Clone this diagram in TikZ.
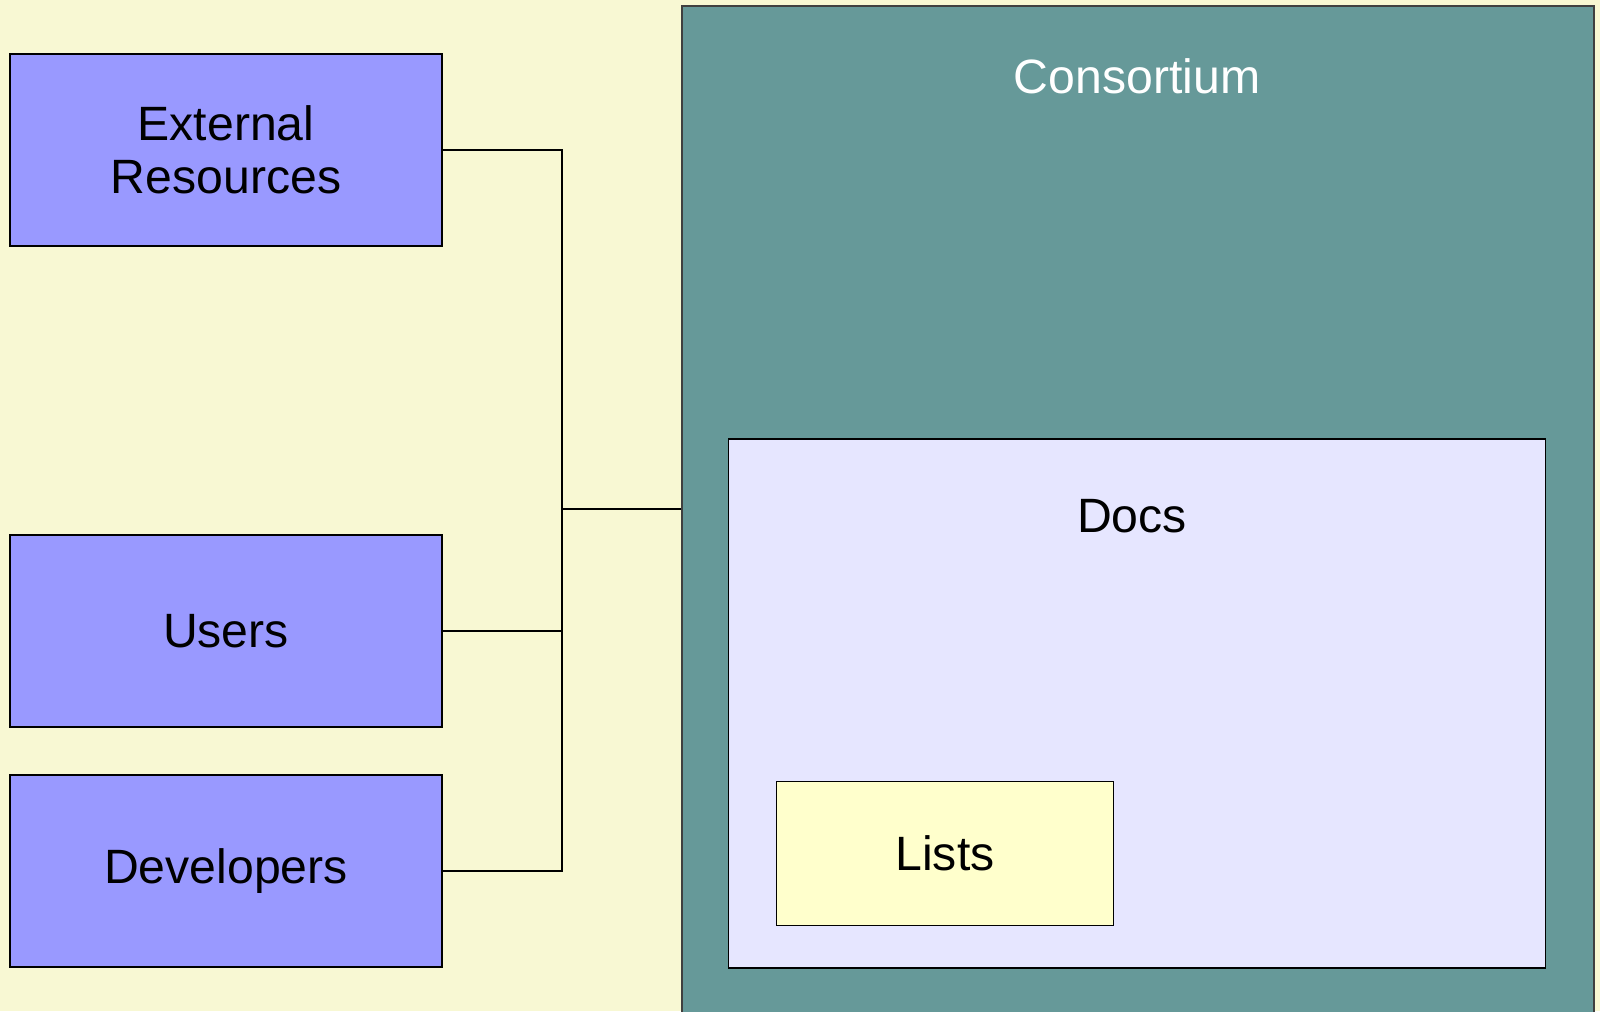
\documentclass[tikz,border=0pt]{standalone}
\usepackage{fontspec}
\setmainfont{Liberation Sans}

\definecolor{paper}{HTML}{F8F8D3}
\definecolor{actorblue}{HTML}{9999FF}
\definecolor{consteal}{HTML}{669999}
\definecolor{docslilac}{HTML}{E6E6FF}
\definecolor{listsyellow}{HTML}{FFFFCC}

\tikzset{
  big/.style={font=\fontsize{13.7}{15.2}\selectfont},
  actor/.style={draw=black, line width=.4pt, fill=actorblue, minimum width=4.32cm,
    minimum height=1.92cm, align=center, inner sep=0pt, big},
  wire/.style={draw=black, line width=.4pt}
}

\begin{document}
\begin{tikzpicture}[x=0.01cm,y=-0.01cm]
  \fill[paper] (0,0) rectangle (1600,1011);
  \useasboundingbox (0,0) rectangle (1600,1011);

  % the three groups on the left
  \node[actor] (ext) at (226,150) {External\\Resources};
  \node[actor] (usr) at (226,631) {Users};
  \node[actor] (dev) at (226,871) {Developers};

  % consortium with docs and lists inside
  \node[fill=consteal, minimum width=9.12cm, minimum height=10.1cm, inner sep=0pt]
    (cons) at (1138,511) {};
  \draw[line width=.5pt, draw=black!75] (682,1020) -- (682,6) -- (1594,6) -- (1594,1020);
  \node[big, text=white] (constitle) at (1137,76) {Consortium};
  \node[draw=black, line width=.4pt, fill=docslilac, minimum width=8.16cm,
    minimum height=5.29cm, inner sep=0pt] (docs) at (1137,703.5) {};
  \node[big] (docstitle) at (1132,516) {Docs};
  \node[draw=black, line width=.4pt, fill=listsyellow, minimum width=3.365cm,
    minimum height=1.44cm, inner sep=0pt, big] (lists) at (945,853.5) {Lists};

  % connectors
  \coordinate (joint) at (562,509);
  \draw[wire] (ext.east) -| (joint) -- (joint -| cons.west);
  \draw[wire] (dev.east) -| (joint);
  \draw[wire] (usr.east) -- (usr.east -| joint);
\end{tikzpicture}
\end{document}
